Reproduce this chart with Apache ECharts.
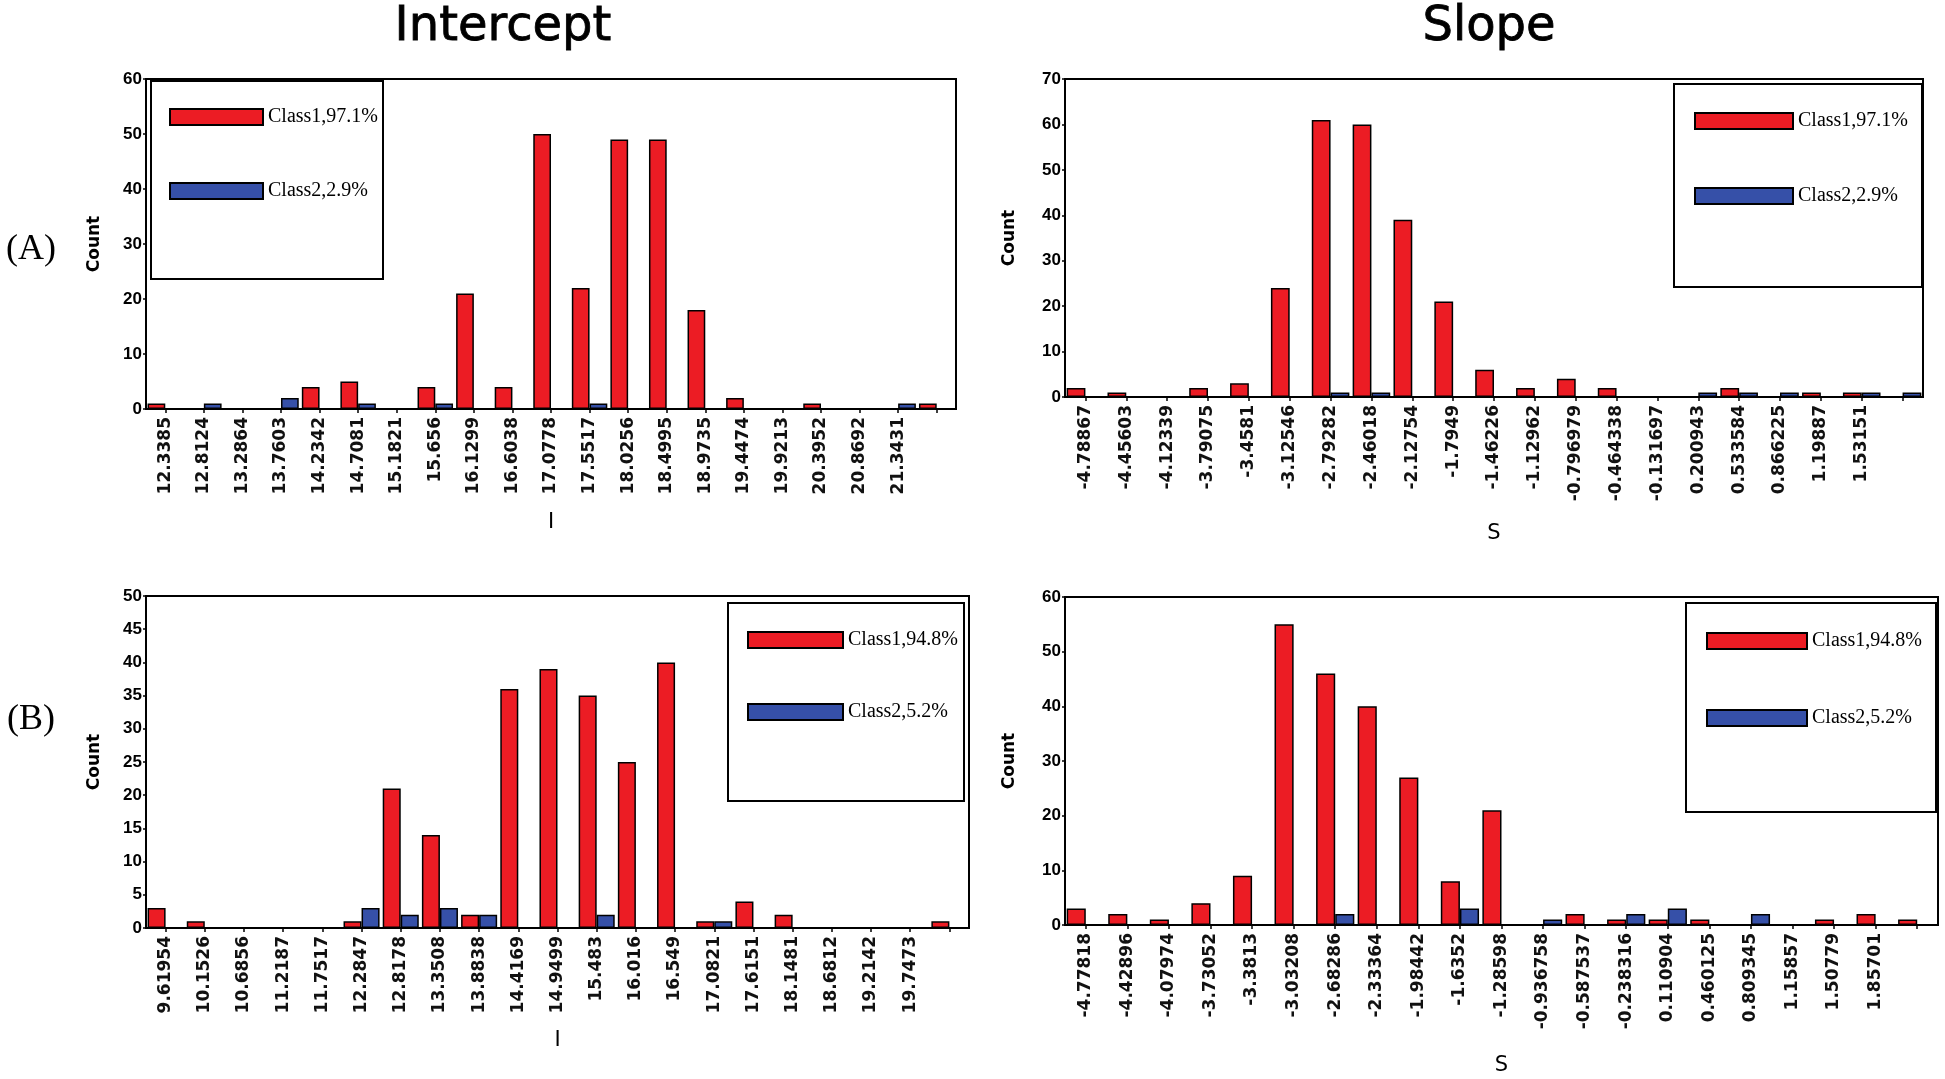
<!DOCTYPE html>
<html><head><meta charset="utf-8">
<script src="https://cdn.jsdelivr.net/npm/echarts@6/dist/echarts.min.js"></script>
<style>html,body{margin:0;padding:0;background:#fff}#c{width:1945px;height:1079px}</style>
</head><body><div id="c"></div>
<script>
// ---- data ----
const interceptA_bins = ['12.3385','12.8124','13.2864','13.7603','14.2342','14.7081','15.1821','15.656','16.1299','16.6038','17.0778','17.5517','18.0256','18.4995','18.9735','19.4474','19.9213','20.3952','20.8692','21.3431',''];
const interceptA_class1 = [1,0,0,0,4,5,0,4,21,4,50,22,49,49,18,2,0,1,0,0,1];
const interceptA_class2 = [0,1,0,2,0,1,0,1,0,0,0,1,0,0,0,0,0,0,0,1,0];

const slopeA_bins = ['-4.78867','-4.45603','-4.12339','-3.79075','-3.4581','-3.12546','-2.79282','-2.46018','-2.12754','-1.7949','-1.46226','-1.12962','-0.796979','-0.464338','-0.131697','0.200943','0.533584','0.866225','1.19887','1.53151',''];
const slopeA_class1 = [2,1,0,2,3,24,61,60,39,21,6,2,4,2,0,0,2,0,1,1,0];
const slopeA_class2 = [0,0,0,0,0,0,1,1,0,0,0,0,0,0,0,1,1,1,0,1,1];

const interceptB_bins = ['9.61954','10.1526','10.6856','11.2187','11.7517','12.2847','12.8178','13.3508','13.8838','14.4169','14.9499','15.483','16.016','16.549','17.0821','17.6151','18.1481','18.6812','19.2142','19.7473',''];
const interceptB_class1 = [3,1,0,0,0,1,21,14,2,36,39,35,25,40,1,4,2,0,0,0,1];
const interceptB_class2 = [0,0,0,0,0,3,2,3,2,0,0,2,0,0,1,0,0,0,0,0,0];

const slopeB_bins = ['-4.77818','-4.42896','-4.07974','-3.73052','-3.3813','-3.03208','-2.68286','-2.33364','-1.98442','-1.6352','-1.28598','-0.936758','-0.587537','-0.238316','0.110904','0.460125','0.809345','1.15857','1.50779','1.85701',''];
const slopeB_class1 = [3,2,1,4,9,55,46,40,27,8,21,0,2,1,1,1,0,0,1,2,1];
const slopeB_class2 = [0,0,0,0,0,0,2,0,0,3,0,1,0,2,3,0,2,0,0,0,0];

const namesA = ['Class1,97.1%','Class2,2.9%'];
const namesB = ['Class1,94.8%','Class2,5.2%'];
const yMax = [60,70,50,60];
const yInterval = [10,10,5,10];
const xNames = ['I','S','I','S'];

// ---- layout ----
const grids = [
  {left:146, top:79, width:810, height:330},
  {left:1065, top:79, width:858, height:318},
  {left:146, top:596, width:823, height:332},
  {left:1065, top:597, width:873, height:328}
];
const xNameGap = [103,126,102,130];
const yNameGap = [43,47,43,47];
const RED = '#ec1c24', BLUE = '#3650a8';

const panels = [
  {bins:interceptA_bins, c1:interceptA_class1, c2:interceptA_class2, names:namesA},
  {bins:slopeA_bins, c1:slopeA_class1, c2:slopeA_class2, names:namesA},
  {bins:interceptB_bins, c1:interceptB_class1, c2:interceptB_class2, names:namesB},
  {bins:slopeB_bins, c1:slopeB_class1, c2:slopeB_class2, names:namesB}
];

const xAxis = [], yAxis = [], series = [];
panels.forEach((p,i)=>{
  xAxis.push({
    gridIndex:i, type:'category', data:p.bins, boundaryGap:true,
    axisLine:{show:true, lineStyle:{color:'#000', width:2}},
    axisTick:{show:true, alignWithLabel:true, interval:0, length:4, lineStyle:{color:'#000', width:1.5}},
    axisLabel:{rotate:90, interval:0, margin:8, fontSize:17, fontWeight:'bold', fontFamily:'DejaVu Sans', color:'#111'},
    splitLine:{show:false},
    name:xNames[i], nameLocation:'middle', nameGap:xNameGap[i],
    nameTextStyle:{fontSize:21, fontFamily:'DejaVu Sans', color:'#000'}
  });
  yAxis.push({
    gridIndex:i, type:'value', min:0, max:yMax[i], interval:yInterval[i],
    axisLine:{show:true, lineStyle:{color:'#000', width:2}},
    axisTick:{show:true, length:3, lineStyle:{color:'#000', width:1.5}},
    axisLabel:{margin:4, fontSize:17, fontWeight:'bold', fontFamily:"'Liberation Sans Narrow','Liberation Sans'", color:'#000'},
    splitLine:{show:false},
    name:'Count', nameLocation:'middle', nameGap:yNameGap[i], nameRotate:90,
    nameTextStyle:{fontSize:17, fontWeight:'bold', fontFamily:'DejaVu Sans', color:'#000'}
  });
  series.push({
    type:'bar', name:p.names[0], xAxisIndex:i, yAxisIndex:i, data:p.c1,
    barGap:'0%', barCategoryGap:'8%',
    itemStyle:{color:RED, borderColor:'#000', borderWidth:1.5}
  });
  series.push({
    type:'bar', name:p.names[1], xAxisIndex:i, yAxisIndex:i, data:p.c2,
    barGap:'0%', barCategoryGap:'8%',
    itemStyle:{color:BLUE, borderColor:'#000', borderWidth:1.5}
  });
});

const legendSpec = [
  {left:169, top:107, w:93, gap:54, names:namesA},
  {left:1694, top:111, w:98, gap:55, names:namesA},
  {left:747, top:630, w:95, gap:52, names:namesB},
  {left:1706, top:631, w:100, gap:57, names:namesB}
];
const legend = legendSpec.map(l=>({
  left:l.left, top:l.top, orient:'vertical', padding:0,
  itemWidth:l.w, itemHeight:16, itemGap:l.gap, icon:'rect',
  selectedMode:false, data:l.names,
  textStyle:{fontFamily:'Liberation Serif', fontSize:20, color:'#000'}
}));

const boxes = [
  [151,81,232,198],[1674,84,248,203],[728,603,236,198],[1686,603,250,209]
];
const graphic = boxes.map(b=>({
  type:'rect', shape:{x:b[0], y:b[1], width:b[2], height:b[3]},
  style:{fill:'none', stroke:'#000', lineWidth:2}, z:10
})).concat([
  {type:'text', x:503, y:28, style:{text:'Intercept', font:'48px "DejaVu Sans"', fill:'#000', stroke:'#000', lineWidth:0.8, textAlign:'center', textVerticalAlign:'middle'}},
  {type:'text', x:1489, y:28, style:{text:'Slope', font:'48px "DejaVu Sans"', fill:'#000', stroke:'#000', lineWidth:0.8, textAlign:'center', textVerticalAlign:'middle'}},
  {type:'text', x:31, y:250, style:{text:'(A)', font:'36px "Liberation Serif"', fill:'#000', textAlign:'center', textVerticalAlign:'middle'}},
  {type:'text', x:31, y:720, style:{text:'(B)', font:'36px "Liberation Serif"', fill:'#000', textAlign:'center', textVerticalAlign:'middle'}}
]);

const chart = echarts.init(document.getElementById('c'));
chart.setOption({
  animation:false,
  backgroundColor:'#fff',
  grid:grids.map(g=>Object.assign({show:true, borderColor:'#000', borderWidth:2, backgroundColor:'transparent'}, g)),
  xAxis, yAxis, series, legend, graphic
});
</script></body></html>
